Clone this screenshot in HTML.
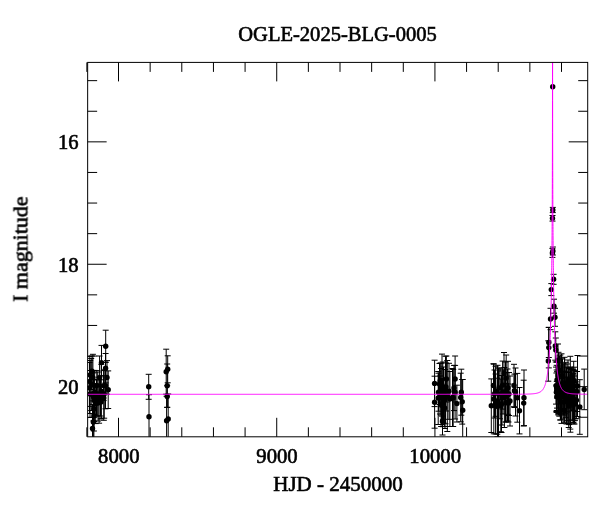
<!DOCTYPE html>
<html lang="en"><head><meta charset="utf-8"><title>OGLE-2025-BLG-0005</title>
<style>html,body{margin:0;padding:0;background:#fff}svg{display:block}text{font-family:"Liberation Serif",serif;fill:#000}</style></head><body>
<svg width="600" height="512" viewBox="0 0 600 512">
<rect width="600" height="512" fill="#fff"/>
<defs><clipPath id="c"><rect x="87.65" y="62.4" width="500.05000000000007" height="374.40000000000003"/></clipPath></defs>
<path d="M86.87 436.8v-9.5M86.87 62.4v9.5M118.51 436.8v-19M118.51 62.4v19M150.15 436.8v-9.5M150.15 62.4v9.5M181.79 436.8v-9.5M181.79 62.4v9.5M213.44 436.8v-9.5M213.44 62.4v9.5M245.08 436.8v-9.5M245.08 62.4v9.5M276.72 436.8v-19M276.72 62.4v19M308.36 436.8v-9.5M308.36 62.4v9.5M340.00 436.8v-9.5M340.00 62.4v9.5M371.65 436.8v-9.5M371.65 62.4v9.5M403.29 436.8v-9.5M403.29 62.4v9.5M434.93 436.8v-19M434.93 62.4v19M466.57 436.8v-9.5M466.57 62.4v9.5M498.21 436.8v-9.5M498.21 62.4v9.5M529.86 436.8v-9.5M529.86 62.4v9.5M561.50 436.8v-9.5M561.50 62.4v9.5M87.65 80.65h9.5M587.7 80.65h-9.5M87.65 111.25h9.5M587.7 111.25h-9.5M87.65 141.85h19M587.7 141.85h-19M87.65 172.45h9.5M587.7 172.45h-9.5M87.65 203.05h9.5M587.7 203.05h-9.5M87.65 233.65h9.5M587.7 233.65h-9.5M87.65 264.25h19M587.7 264.25h-19M87.65 294.85h9.5M587.7 294.85h-9.5M87.65 325.45h9.5M587.7 325.45h-9.5M87.65 356.05h9.5M587.7 356.05h-9.5M87.65 386.65h19M587.7 386.65h-19M87.65 417.25h9.5M587.7 417.25h-9.5" stroke="#000" stroke-width="1" fill="none"/>
<g clip-path="url(#c)">
<path d="M105.7 330.2V362.2M102.7 330.2h6M102.7 362.2h6M101.5 345.4V379.8M98.5 345.4h6M98.5 379.8h6M105.6 353.5V382.9M102.6 353.5h6M102.6 382.9h6M92.0 356.0V386.4M89.0 356.0h6M89.0 386.4h6M90.2 360.5V389.5M87.2 360.5h6M87.2 389.5h6M92.9 354.3V400.9M89.9 354.3h6M89.9 400.9h6M99.6 356.0V399.2M96.6 356.0h6M96.6 399.2h6M107.0 360.6V394.2M104.0 360.6h6M104.0 394.2h6M105.5 362.4V408.8M102.5 362.4h6M102.5 408.8h6M91.2 358.5V410.5M88.2 358.5h6M88.2 410.5h6M96.8 370.6V400.6M93.8 370.6h6M93.8 400.6h6M103.6 370.6V400.6M100.6 370.6h6M100.6 400.6h6M108.2 370.9V408.5M105.2 370.9h6M105.2 408.5h6M101.3 364.3V418.3M98.3 364.3h6M98.3 418.3h6M94.6 370.4V414.4M91.6 370.4h6M91.6 414.4h6M93.5 372.9V420.9M90.5 372.9h6M90.5 420.9h6M103.8 375.7V420.3M100.8 375.7h6M100.8 420.3h6M99.1 377.2V423.2M96.1 377.2h6M96.1 423.2h6M95.7 383.6V423.6M92.7 383.6h6M92.7 423.6h6M89.5 362.5V413.5M86.5 362.5h6M86.5 413.5h6M90.0 370.5V417.5M87.0 370.5h6M87.0 417.5h6M97.8 372.0V416.0M94.8 372.0h6M94.8 416.0h6M104.2 369.8V418.2M101.2 369.8h6M101.2 418.2h6M89.8 356.6V406.4M86.8 356.6h6M86.8 406.4h6M93.9 387.0V431.0M90.9 387.0h6M90.9 431.0h6M93.9 392.0V440.0M90.9 392.0h6M90.9 440.0h6M93.3 396.0V448.0M90.3 396.0h6M90.3 448.0h6M92.5 404.4V452.4M89.5 404.4h6M89.5 452.4h6M96.5 380.0V416.0M93.5 380.0h6M93.5 416.0h6M100.5 376.0V416.0M97.5 376.0h6M97.5 416.0h6M98.0 385.0V421.0M95.0 385.0h6M95.0 421.0h6M94.2 379.5V421.5M91.2 379.5h6M91.2 421.5h6M101.0 385.0V419.0M98.0 385.0h6M98.0 419.0h6M148.7 374.3V399.3M145.7 374.3h6M145.7 399.3h6M149.0 394.7V438.7M146.0 394.7h6M146.0 438.7h6M167.7 355.8V382.8M164.7 355.8h6M164.7 382.8h6M166.2 349.2V394.2M163.2 349.2h6M163.2 394.2h6M167.2 364.0V407.4M164.2 364.0h6M164.2 407.4h6M167.2 385.7V407.3M164.2 385.7h6M164.2 407.3h6M168.2 394.0V444.0M165.2 394.0h6M165.2 444.0h6M166.6 396.3V445.3M163.6 396.3h6M163.6 445.3h6M434.6 360.2V406.6M431.6 360.2h6M431.6 406.6h6M434.6 376.2V428.2M431.6 376.2h6M431.6 428.2h6M438.5 373.2V411.2M435.5 373.2h6M435.5 411.2h6M440.2 363.2V398.4M437.2 363.2h6M437.2 398.4h6M442.0 354.1V416.1M439.0 354.1h6M439.0 416.1h6M441.1 368.5V426.5M438.1 368.5h6M438.1 426.5h6M442.8 378.7V426.7M439.8 378.7h6M439.8 426.7h6M444.6 389.5V426.5M441.6 389.5h6M441.6 426.5h6M442.8 362.0V422.0M439.8 362.0h6M439.8 422.0h6M446.4 356.0V402.0M443.4 356.0h6M443.4 402.0h6M445.5 356.2V423.8M442.5 356.2h6M442.5 423.8h6M447.3 360.5V431.5M444.3 360.5h6M444.3 431.5h6M449.0 363.3V419.3M446.0 363.3h6M446.0 419.3h6M449.9 371.5V426.5M446.9 371.5h6M446.9 426.5h6M452.5 368.5V426.5M449.5 368.5h6M449.5 426.5h6M455.1 356.0V402.0M452.1 356.0h6M452.1 402.0h6M455.1 365.4V419.0M452.1 365.4h6M452.1 419.0h6M454.0 365.4V410.6M451.0 365.4h6M451.0 410.6h6M456.9 385.2V422.0M453.9 385.2h6M453.9 422.0h6M453.2 369.5V426.5M450.2 369.5h6M450.2 426.5h6M461.3 369.2V415.2M458.3 369.2h6M458.3 415.2h6M460.7 373.2V421.8M457.7 373.2h6M457.7 421.8h6M462.2 379.5V424.1M459.2 379.5h6M459.2 424.1h6M462.7 379.5V441.1M459.7 379.5h6M459.7 441.1h6M443.0 378.5V421.5M440.0 378.5h6M440.0 421.5h6M440.0 376.0V414.0M437.0 376.0h6M437.0 414.0h6M439.5 363.5V404.5M436.5 363.5h6M436.5 404.5h6M441.0 363.0V415.0M438.0 363.0h6M438.0 415.0h6M443.5 367.0V423.0M440.5 367.0h6M440.5 423.0h6M441.5 385.5V424.5M438.5 385.5h6M438.5 424.5h6M445.0 369.5V428.5M442.0 369.5h6M442.0 428.5h6M446.0 363.0V411.0M443.0 363.0h6M443.0 411.0h6M438.2 371.5V424.5M435.2 371.5h6M435.2 424.5h6M442.5 407.0V435.0M439.5 407.0h6M439.5 435.0h6M493.5 363.7V407.3M490.5 363.7h6M490.5 407.3h6M491.3 378.9V432.5M488.3 378.9h6M488.3 432.5h6M495.6 366.3V416.3M492.6 366.3h6M492.6 416.3h6M497.5 365.3V436.7M494.5 365.3h6M494.5 436.7h6M497.3 378.2V434.2M494.3 378.2h6M494.3 434.2h6M500.0 369.0V418.8M497.0 369.0h6M497.0 418.8h6M500.8 379.1V431.7M497.8 379.1h6M497.8 431.7h6M502.6 361.1V409.1M499.6 361.1h6M499.6 409.1h6M504.0 352.5V394.5M501.0 352.5h6M501.0 394.5h6M504.4 367.5V427.5M501.4 367.5h6M501.4 427.5h6M506.2 355.0V401.2M503.2 355.0h6M503.2 401.2h6M508.0 361.3V414.3M505.0 361.3h6M505.0 414.3h6M506.1 383.4V422.0M503.1 383.4h6M503.1 422.0h6M510.0 376.0V426.0M507.0 376.0h6M507.0 426.0h6M514.0 364.3V406.7M511.0 364.3h6M511.0 406.7h6M514.4 374.1V407.5M511.4 374.1h6M511.4 407.5h6M515.5 368.0V416.0M512.5 368.0h6M512.5 416.0h6M517.3 373.4V422.2M514.3 373.4h6M514.3 422.2h6M519.5 387.5V433.9M516.5 387.5h6M516.5 433.9h6M524.0 370.0V425.6M521.0 370.0h6M521.0 425.6h6M523.7 380.2V426.0M520.7 380.2h6M520.7 426.0h6M498.5 368.0V440.0M495.5 368.0h6M495.5 440.0h6M495.6 374.0V434.0M492.6 374.0h6M492.6 434.0h6M502.0 371.0V425.0M499.0 371.0h6M499.0 425.0h6M505.5 362.0V422.0M502.5 362.0h6M502.5 422.0h6M509.0 372.5V415.5M506.0 372.5h6M506.0 415.5h6M493.8 364.2V433.8M490.8 364.2h6M490.8 433.8h6M507.5 369.0V421.0M504.5 369.0h6M504.5 421.0h6M501.5 375.5V432.5M498.5 375.5h6M498.5 432.5h6M494.5 370.0V418.0M491.5 370.0h6M491.5 418.0h6M499.0 368.0V408.0M496.0 368.0h6M496.0 408.0h6M503.0 370.0V414.0M500.0 370.0h6M500.0 414.0h6M508.5 384.0V422.0M505.5 384.0h6M505.5 422.0h6M552.8 207.4V212.6M549.8 207.4h6M549.8 212.6h6M552.5 215.5V221.1M549.5 215.5h6M549.5 221.1h6M552.4 248.4V257.4M549.4 248.4h6M549.4 257.4h6M552.9 247.0V255.0M549.9 247.0h6M549.9 255.0h6M553.6 274.3V284.3M550.6 274.3h6M550.6 284.3h6M551.3 283.6V295.6M548.3 283.6h6M548.3 295.6h6M554.0 299.2V313.2M551.0 299.2h6M551.0 313.2h6M550.5 308.3V329.7M547.5 308.3h6M547.5 329.7h6M555.0 308.3V326.3M552.0 308.3h6M552.0 326.3h6M548.8 327.5V357.5M545.8 327.5h6M545.8 357.5h6M548.8 327.3V367.9M545.8 327.3h6M545.8 367.9h6M548.3 340.8V381.2M545.3 340.8h6M545.3 381.2h6M555.3 331.8V360.2M552.3 331.8h6M552.3 360.2h6M555.8 338.0V362.0M552.8 338.0h6M552.8 362.0h6M558.0 344.0V376.0M555.0 344.0h6M555.0 376.0h6M556.4 373.0V411.4M553.4 373.0h6M553.4 411.4h6M558.0 366.0V414.0M555.0 366.0h6M555.0 414.0h6M560.3 355.0V420.0M557.3 355.0h6M557.3 420.0h6M561.5 353.8V423.4M558.5 353.8h6M558.5 423.4h6M558.5 352.3V397.7M555.5 352.3h6M555.5 397.7h6M562.0 358.0V410.0M559.0 358.0h6M559.0 410.0h6M564.5 357.3V408.7M561.5 357.3h6M561.5 408.7h6M565.7 362.3V417.7M562.7 362.3h6M562.7 417.7h6M563.0 371.0V419.0M560.0 371.0h6M560.0 419.0h6M566.5 372.0V424.0M563.5 372.0h6M563.5 424.0h6M568.7 372.5V427.5M565.7 372.5h6M565.7 427.5h6M570.3 356.3V429.1M567.3 356.3h6M567.3 429.1h6M570.4 367.2V432.2M567.4 367.2h6M567.4 432.2h6M573.7 361.3V423.9M570.7 361.3h6M570.7 423.9h6M575.0 367.2V418.8M572.0 367.2h6M572.0 418.8h6M571.0 367.2V402.2M568.0 367.2h6M568.0 402.2h6M577.5 355.5V416.5M574.5 355.5h6M574.5 416.5h6M579.8 379.7V434.3M576.8 379.7h6M576.8 434.3h6M584.2 369.1V409.7M581.2 369.1h6M581.2 409.7h6M557.0 362.0V398.0M554.0 362.0h6M554.0 398.0h6M559.5 356.0V384.0M556.5 356.0h6M556.5 384.0h6M559.0 382.0V414.0M556.0 382.0h6M556.0 414.0h6M560.5 384.1V419.9M557.5 384.1h6M557.5 419.9h6M562.5 359.0V393.0M559.5 359.0h6M559.5 393.0h6M564.0 382.0V422.0M561.0 382.0h6M561.0 422.0h6M567.0 364.0V412.0M564.0 364.0h6M564.0 412.0h6M568.0 360.0V400.0M565.0 360.0h6M565.0 400.0h6M569.0 388.0V424.0M566.0 388.0h6M566.0 424.0h6M572.0 376.0V420.0M569.0 376.0h6M569.0 420.0h6M574.5 376.0V424.0M571.5 376.0h6M571.5 424.0h6M577.0 371.5V411.5M574.0 371.5h6M574.0 411.5h6M562.3 378.4V414.2M559.3 378.4h6M559.3 414.2h6M566.8 377.0V420.6M563.8 377.0h6M563.8 420.6h6M556.7 365.3V410.5M553.7 365.3h6M553.7 410.5h6M557.0 371.7V408.1M554.0 371.7h6M554.0 408.1h6M564.4 371.9V411.7M561.4 371.9h6M561.4 411.7h6M568.7 368.1V405.1M565.7 368.1h6M565.7 405.1h6M573.5 382.6V422.2M570.5 382.6h6M570.5 422.2h6M558.5 374.5V415.1M555.5 374.5h6M555.5 415.1h6M559.3 372.4V416.2M556.3 372.4h6M556.3 416.2h6M568.9 368.1V398.7M565.9 368.1h6M565.9 398.7h6M556.8 381.4V412.2M553.8 381.4h6M553.8 412.2h6M569.8 368.5V399.7M566.8 368.5h6M566.8 399.7h6M565.0 372.0V413.8M562.0 372.0h6M562.0 413.8h6M572.2 369.4V407.0M569.2 369.4h6M569.2 407.0h6M566.5 367.2V402.2M563.5 367.2h6M563.5 402.2h6M570.8 368.9V401.1M567.8 368.9h6M567.8 401.1h6M564.3 398.0V422.8M561.3 398.0h6M561.3 422.8h6M558.7 362.2V413.6M555.7 362.2h6M555.7 413.6h6M571.6 369.2V411.0M568.6 369.2h6M568.6 411.0h6M573.9 370.2V400.8M570.9 370.2h6M570.9 400.8h6M567.7 377.7V423.5M564.7 377.7h6M564.7 423.5h6M573.1 373.4V422.6M570.1 373.4h6M570.1 422.6h6M556.8 362.0V412.2M553.8 362.0h6M553.8 412.2h6M569.1 383.2V424.6M566.1 383.2h6M566.1 424.6h6M563.6 363.7V415.1M560.6 363.7h6M560.6 415.1h6M556.0 367.1V404.1M553.0 367.1h6M553.0 404.1h6M556.7 370.0V412.2M553.7 370.0h6M553.7 412.2h6M573.0 369.8V410.4M570.0 369.8h6M570.0 410.4h6M572.6 374.7V420.3M569.6 374.7h6M569.6 420.3h6M576.4 381.9V418.7M573.4 381.9h6M573.4 418.7h6M574.2 370.3V391.1M571.2 370.3h6M571.2 391.1h6M574.9 387.6V420.6M571.9 387.6h6M571.9 420.6h6" stroke="#000" stroke-width="1" fill="none"/>
<g fill="#000"><circle cx="105.7" cy="346.2" r="2.7"/><circle cx="101.5" cy="362.6" r="2.7"/><circle cx="105.6" cy="368.2" r="2.7"/><circle cx="92.0" cy="371.2" r="2.7"/><circle cx="90.2" cy="375.0" r="2.7"/><circle cx="92.9" cy="377.6" r="2.7"/><circle cx="99.6" cy="377.6" r="2.7"/><circle cx="107.0" cy="377.4" r="2.7"/><circle cx="105.5" cy="385.6" r="2.7"/><circle cx="91.2" cy="384.5" r="2.7"/><circle cx="96.8" cy="385.6" r="2.7"/><circle cx="103.6" cy="385.6" r="2.7"/><circle cx="108.2" cy="389.7" r="2.7"/><circle cx="101.3" cy="391.3" r="2.7"/><circle cx="94.6" cy="392.4" r="2.7"/><circle cx="93.5" cy="396.9" r="2.7"/><circle cx="103.8" cy="398.0" r="2.7"/><circle cx="99.1" cy="400.2" r="2.7"/><circle cx="95.7" cy="403.6" r="2.7"/><circle cx="89.5" cy="388.0" r="2.7"/><circle cx="90.0" cy="394.0" r="2.7"/><circle cx="97.8" cy="394.0" r="2.7"/><circle cx="104.2" cy="394.0" r="2.7"/><circle cx="89.8" cy="381.5" r="2.7"/><circle cx="93.9" cy="409.0" r="2.7"/><circle cx="93.9" cy="416.0" r="2.7"/><circle cx="93.3" cy="422.0" r="2.7"/><circle cx="92.5" cy="428.4" r="2.7"/><circle cx="96.5" cy="398.0" r="2.7"/><circle cx="100.5" cy="396.0" r="2.7"/><circle cx="98.0" cy="403.0" r="2.7"/><circle cx="94.2" cy="400.5" r="2.7"/><circle cx="101.0" cy="402.0" r="2.7"/><circle cx="148.7" cy="386.8" r="2.7"/><circle cx="149.0" cy="416.7" r="2.7"/><circle cx="167.7" cy="369.3" r="2.7"/><circle cx="166.2" cy="371.7" r="2.7"/><circle cx="167.2" cy="385.7" r="2.7"/><circle cx="167.2" cy="396.5" r="2.7"/><circle cx="168.2" cy="419.0" r="2.7"/><circle cx="166.6" cy="420.8" r="2.7"/><circle cx="434.6" cy="383.4" r="2.7"/><circle cx="434.6" cy="402.2" r="2.7"/><circle cx="438.5" cy="392.2" r="2.7"/><circle cx="440.2" cy="380.8" r="2.7"/><circle cx="442.0" cy="385.1" r="2.7"/><circle cx="441.1" cy="397.5" r="2.7"/><circle cx="442.8" cy="402.7" r="2.7"/><circle cx="444.6" cy="408.0" r="2.7"/><circle cx="442.8" cy="392.0" r="2.7"/><circle cx="446.4" cy="379.0" r="2.7"/><circle cx="445.5" cy="390.0" r="2.7"/><circle cx="447.3" cy="396.0" r="2.7"/><circle cx="449.0" cy="391.3" r="2.7"/><circle cx="449.9" cy="399.0" r="2.7"/><circle cx="452.5" cy="397.5" r="2.7"/><circle cx="455.1" cy="379.0" r="2.7"/><circle cx="455.1" cy="392.2" r="2.7"/><circle cx="454.0" cy="388.0" r="2.7"/><circle cx="456.9" cy="403.6" r="2.7"/><circle cx="453.2" cy="398.0" r="2.7"/><circle cx="461.3" cy="392.2" r="2.7"/><circle cx="460.7" cy="397.5" r="2.7"/><circle cx="462.2" cy="401.8" r="2.7"/><circle cx="462.7" cy="410.3" r="2.7"/><circle cx="443.0" cy="400.0" r="2.7"/><circle cx="440.0" cy="395.0" r="2.7"/><circle cx="439.5" cy="384.0" r="2.7"/><circle cx="441.0" cy="389.0" r="2.7"/><circle cx="443.5" cy="395.0" r="2.7"/><circle cx="441.5" cy="405.0" r="2.7"/><circle cx="445.0" cy="399.0" r="2.7"/><circle cx="446.0" cy="387.0" r="2.7"/><circle cx="438.2" cy="398.0" r="2.7"/><circle cx="442.5" cy="421.0" r="2.7"/><circle cx="493.5" cy="385.5" r="2.7"/><circle cx="491.3" cy="405.7" r="2.7"/><circle cx="495.6" cy="391.3" r="2.7"/><circle cx="497.5" cy="401.0" r="2.7"/><circle cx="497.3" cy="406.2" r="2.7"/><circle cx="500.0" cy="393.9" r="2.7"/><circle cx="500.8" cy="405.4" r="2.7"/><circle cx="502.6" cy="385.1" r="2.7"/><circle cx="504.0" cy="373.5" r="2.7"/><circle cx="504.4" cy="397.5" r="2.7"/><circle cx="506.2" cy="378.1" r="2.7"/><circle cx="508.0" cy="387.8" r="2.7"/><circle cx="506.1" cy="402.7" r="2.7"/><circle cx="510.0" cy="401.0" r="2.7"/><circle cx="514.0" cy="385.5" r="2.7"/><circle cx="514.4" cy="390.8" r="2.7"/><circle cx="515.5" cy="392.0" r="2.7"/><circle cx="517.3" cy="397.8" r="2.7"/><circle cx="519.5" cy="410.7" r="2.7"/><circle cx="524.0" cy="397.8" r="2.7"/><circle cx="523.7" cy="403.1" r="2.7"/><circle cx="498.5" cy="404.0" r="2.7"/><circle cx="495.6" cy="404.0" r="2.7"/><circle cx="502.0" cy="398.0" r="2.7"/><circle cx="505.5" cy="392.0" r="2.7"/><circle cx="509.0" cy="394.0" r="2.7"/><circle cx="493.8" cy="399.0" r="2.7"/><circle cx="507.5" cy="395.0" r="2.7"/><circle cx="501.5" cy="404.0" r="2.7"/><circle cx="494.5" cy="394.0" r="2.7"/><circle cx="499.0" cy="388.0" r="2.7"/><circle cx="503.0" cy="392.0" r="2.7"/><circle cx="508.5" cy="403.0" r="2.7"/><circle cx="552.7" cy="86.7" r="2.7"/><circle cx="552.8" cy="210.0" r="2.7"/><circle cx="552.5" cy="218.3" r="2.7"/><circle cx="552.4" cy="252.9" r="2.7"/><circle cx="552.9" cy="251.0" r="2.7"/><circle cx="553.6" cy="279.3" r="2.7"/><circle cx="551.3" cy="289.6" r="2.7"/><circle cx="554.0" cy="306.2" r="2.7"/><circle cx="550.5" cy="319.0" r="2.7"/><circle cx="555.0" cy="317.3" r="2.7"/><circle cx="548.8" cy="342.5" r="2.7"/><circle cx="548.8" cy="347.6" r="2.7"/><circle cx="548.3" cy="361.0" r="2.7"/><circle cx="555.3" cy="346.0" r="2.7"/><circle cx="555.8" cy="350.0" r="2.7"/><circle cx="558.0" cy="360.0" r="2.7"/><circle cx="556.4" cy="392.2" r="2.7"/><circle cx="558.0" cy="390.0" r="2.7"/><circle cx="560.3" cy="387.5" r="2.7"/><circle cx="561.5" cy="388.6" r="2.7"/><circle cx="558.5" cy="375.0" r="2.7"/><circle cx="562.0" cy="384.0" r="2.7"/><circle cx="564.5" cy="383.0" r="2.7"/><circle cx="565.7" cy="390.0" r="2.7"/><circle cx="563.0" cy="395.0" r="2.7"/><circle cx="566.5" cy="398.0" r="2.7"/><circle cx="568.7" cy="400.0" r="2.7"/><circle cx="570.3" cy="392.7" r="2.7"/><circle cx="570.4" cy="399.7" r="2.7"/><circle cx="573.7" cy="392.6" r="2.7"/><circle cx="575.0" cy="393.0" r="2.7"/><circle cx="571.0" cy="384.7" r="2.7"/><circle cx="577.5" cy="386.0" r="2.7"/><circle cx="579.8" cy="407.0" r="2.7"/><circle cx="584.2" cy="389.4" r="2.7"/><circle cx="557.0" cy="380.0" r="2.7"/><circle cx="559.5" cy="370.0" r="2.7"/><circle cx="559.0" cy="398.0" r="2.7"/><circle cx="560.5" cy="402.0" r="2.7"/><circle cx="562.5" cy="376.0" r="2.7"/><circle cx="564.0" cy="402.0" r="2.7"/><circle cx="567.0" cy="388.0" r="2.7"/><circle cx="568.0" cy="380.0" r="2.7"/><circle cx="569.0" cy="406.0" r="2.7"/><circle cx="572.0" cy="398.0" r="2.7"/><circle cx="574.5" cy="400.0" r="2.7"/><circle cx="577.0" cy="391.5" r="2.7"/><circle cx="562.3" cy="396.3" r="2.7"/><circle cx="566.8" cy="398.8" r="2.7"/><circle cx="556.7" cy="387.9" r="2.7"/><circle cx="557.0" cy="389.9" r="2.7"/><circle cx="564.4" cy="391.8" r="2.7"/><circle cx="568.7" cy="386.6" r="2.7"/><circle cx="573.5" cy="402.4" r="2.7"/><circle cx="558.5" cy="394.8" r="2.7"/><circle cx="559.3" cy="394.3" r="2.7"/><circle cx="568.9" cy="383.4" r="2.7"/><circle cx="556.8" cy="396.8" r="2.7"/><circle cx="569.8" cy="384.1" r="2.7"/><circle cx="565.0" cy="392.9" r="2.7"/><circle cx="572.2" cy="388.2" r="2.7"/><circle cx="566.5" cy="384.7" r="2.7"/><circle cx="570.8" cy="385.0" r="2.7"/><circle cx="564.3" cy="410.4" r="2.7"/><circle cx="558.7" cy="387.9" r="2.7"/><circle cx="571.6" cy="390.1" r="2.7"/><circle cx="573.9" cy="385.5" r="2.7"/><circle cx="567.7" cy="400.6" r="2.7"/><circle cx="573.1" cy="398.0" r="2.7"/><circle cx="556.8" cy="387.1" r="2.7"/><circle cx="569.1" cy="403.9" r="2.7"/><circle cx="563.6" cy="389.4" r="2.7"/><circle cx="556.0" cy="385.6" r="2.7"/><circle cx="556.7" cy="391.1" r="2.7"/><circle cx="573.0" cy="390.1" r="2.7"/><circle cx="572.6" cy="397.5" r="2.7"/><circle cx="576.4" cy="400.3" r="2.7"/><circle cx="574.2" cy="380.7" r="2.7"/><circle cx="574.9" cy="404.1" r="2.7"/></g>
<path d="M87.65 394.30L88.65 394.30L89.65 394.30L90.65 394.30L91.65 394.30L92.65 394.30L93.65 394.30L94.65 394.30L95.65 394.30L96.65 394.30L97.65 394.30L98.65 394.30L99.65 394.30L100.65 394.30L101.65 394.30L102.65 394.30L103.65 394.30L104.65 394.30L105.65 394.30L106.65 394.30L107.65 394.30L108.65 394.30L109.65 394.30L110.65 394.30L111.65 394.30L112.65 394.30L113.65 394.30L114.65 394.30L115.65 394.30L116.65 394.30L117.65 394.30L118.65 394.30L119.65 394.30L120.65 394.30L121.65 394.30L122.65 394.30L123.65 394.30L124.65 394.30L125.65 394.30L126.65 394.30L127.65 394.30L128.65 394.30L129.65 394.30L130.65 394.30L131.65 394.30L132.65 394.30L133.65 394.30L134.65 394.30L135.65 394.30L136.65 394.30L137.65 394.30L138.65 394.30L139.65 394.30L140.65 394.30L141.65 394.30L142.65 394.30L143.65 394.30L144.65 394.30L145.65 394.30L146.65 394.30L147.65 394.30L148.65 394.30L149.65 394.30L150.65 394.30L151.65 394.30L152.65 394.30L153.65 394.30L154.65 394.30L155.65 394.30L156.65 394.30L157.65 394.30L158.65 394.30L159.65 394.30L160.65 394.30L161.65 394.30L162.65 394.30L163.65 394.30L164.65 394.30L165.65 394.30L166.65 394.30L167.65 394.30L168.65 394.30L169.65 394.30L170.65 394.30L171.65 394.30L172.65 394.30L173.65 394.30L174.65 394.30L175.65 394.30L176.65 394.30L177.65 394.30L178.65 394.30L179.65 394.30L180.65 394.30L181.65 394.30L182.65 394.30L183.65 394.30L184.65 394.30L185.65 394.30L186.65 394.30L187.65 394.30L188.65 394.30L189.65 394.30L190.65 394.30L191.65 394.30L192.65 394.30L193.65 394.30L194.65 394.30L195.65 394.30L196.65 394.30L197.65 394.30L198.65 394.30L199.65 394.30L200.65 394.30L201.65 394.30L202.65 394.30L203.65 394.30L204.65 394.30L205.65 394.30L206.65 394.30L207.65 394.30L208.65 394.30L209.65 394.30L210.65 394.30L211.65 394.30L212.65 394.30L213.65 394.30L214.65 394.30L215.65 394.30L216.65 394.30L217.65 394.30L218.65 394.30L219.65 394.30L220.65 394.30L221.65 394.30L222.65 394.30L223.65 394.30L224.65 394.30L225.65 394.30L226.65 394.30L227.65 394.30L228.65 394.30L229.65 394.30L230.65 394.30L231.65 394.30L232.65 394.30L233.65 394.30L234.65 394.30L235.65 394.30L236.65 394.30L237.65 394.30L238.65 394.30L239.65 394.30L240.65 394.30L241.65 394.30L242.65 394.30L243.65 394.30L244.65 394.30L245.65 394.30L246.65 394.30L247.65 394.30L248.65 394.30L249.65 394.30L250.65 394.30L251.65 394.30L252.65 394.30L253.65 394.30L254.65 394.30L255.65 394.30L256.65 394.30L257.65 394.30L258.65 394.30L259.65 394.30L260.65 394.30L261.65 394.30L262.65 394.30L263.65 394.30L264.65 394.30L265.65 394.30L266.65 394.30L267.65 394.30L268.65 394.30L269.65 394.30L270.65 394.30L271.65 394.30L272.65 394.30L273.65 394.30L274.65 394.30L275.65 394.30L276.65 394.30L277.65 394.30L278.65 394.30L279.65 394.30L280.65 394.30L281.65 394.30L282.65 394.30L283.65 394.30L284.65 394.30L285.65 394.30L286.65 394.30L287.65 394.30L288.65 394.30L289.65 394.30L290.65 394.30L291.65 394.30L292.65 394.30L293.65 394.30L294.65 394.30L295.65 394.30L296.65 394.30L297.65 394.30L298.65 394.30L299.65 394.30L300.65 394.30L301.65 394.30L302.65 394.30L303.65 394.30L304.65 394.30L305.65 394.30L306.65 394.30L307.65 394.30L308.65 394.30L309.65 394.30L310.65 394.30L311.65 394.30L312.65 394.30L313.65 394.30L314.65 394.30L315.65 394.30L316.65 394.30L317.65 394.30L318.65 394.30L319.65 394.30L320.65 394.30L321.65 394.30L322.65 394.30L323.65 394.30L324.65 394.30L325.65 394.30L326.65 394.30L327.65 394.30L328.65 394.30L329.65 394.30L330.65 394.30L331.65 394.30L332.65 394.30L333.65 394.30L334.65 394.30L335.65 394.30L336.65 394.30L337.65 394.30L338.65 394.30L339.65 394.30L340.65 394.30L341.65 394.30L342.65 394.30L343.65 394.30L344.65 394.30L345.65 394.30L346.65 394.30L347.65 394.30L348.65 394.30L349.65 394.30L350.65 394.30L351.65 394.30L352.65 394.30L353.65 394.30L354.65 394.30L355.65 394.30L356.65 394.30L357.65 394.30L358.65 394.30L359.65 394.30L360.65 394.30L361.65 394.30L362.65 394.30L363.65 394.30L364.65 394.30L365.65 394.30L366.65 394.30L367.65 394.30L368.65 394.30L369.65 394.30L370.65 394.30L371.65 394.30L372.65 394.30L373.65 394.30L374.65 394.30L375.65 394.30L376.65 394.30L377.65 394.30L378.65 394.30L379.65 394.30L380.65 394.30L381.65 394.30L382.65 394.30L383.65 394.30L384.65 394.30L385.65 394.30L386.65 394.30L387.65 394.30L388.65 394.30L389.65 394.30L390.65 394.30L391.65 394.30L392.65 394.30L393.65 394.30L394.65 394.30L395.65 394.30L396.65 394.30L397.65 394.30L398.65 394.30L399.65 394.30L400.65 394.30L401.65 394.30L402.65 394.30L403.65 394.30L404.65 394.30L405.65 394.30L406.65 394.30L407.65 394.30L408.65 394.30L409.65 394.30L410.65 394.30L411.65 394.30L412.65 394.30L413.65 394.30L414.65 394.30L415.65 394.30L416.65 394.30L417.65 394.30L418.65 394.30L419.65 394.30L420.65 394.30L421.65 394.30L422.65 394.30L423.65 394.30L424.65 394.30L425.65 394.30L426.65 394.30L427.65 394.30L428.65 394.30L429.65 394.30L430.65 394.30L431.65 394.30L432.65 394.30L433.65 394.30L434.65 394.30L435.65 394.30L436.65 394.30L437.65 394.30L438.65 394.30L439.65 394.30L440.65 394.30L441.65 394.30L442.65 394.30L443.65 394.30L444.65 394.30L445.65 394.30L446.65 394.30L447.65 394.30L448.65 394.30L449.65 394.30L450.65 394.30L451.65 394.30L452.65 394.30L453.65 394.30L454.65 394.30L455.65 394.30L456.65 394.30L457.65 394.30L458.65 394.30L459.65 394.30L460.65 394.30L461.65 394.30L462.65 394.30L463.65 394.30L464.65 394.30L465.65 394.30L466.65 394.30L467.65 394.30L468.65 394.30L469.65 394.30L470.65 394.30L471.65 394.30L472.65 394.30L473.65 394.30L474.65 394.30L475.65 394.30L476.65 394.30L477.65 394.30L478.65 394.30L479.65 394.30L480.65 394.30L481.65 394.30L482.65 394.30L483.65 394.30L484.65 394.30L485.65 394.30L486.65 394.29L487.65 394.29L488.65 394.29L489.65 394.29L490.65 394.29L491.65 394.29L492.65 394.29L493.65 394.29L494.65 394.29L495.65 394.29L496.65 394.29L497.65 394.29L498.65 394.29L499.65 394.29L500.65 394.29L501.65 394.29L502.65 394.28L503.65 394.28L504.65 394.28L505.65 394.28L506.65 394.28L507.65 394.28L508.65 394.28L509.65 394.27L510.65 394.27L511.65 394.27L512.65 394.26L513.65 394.26L514.65 394.26L515.65 394.25L516.65 394.25L517.65 394.24L518.65 394.23L519.65 394.22L520.65 394.22L521.65 394.20L522.65 394.19L523.65 394.18L524.65 394.16L525.65 394.14L526.65 394.11L527.65 394.08L528.65 394.05L529.65 394.01L530.65 393.96L531.65 393.89L532.65 393.82L533.65 393.72L534.65 393.60L535.65 393.44L536.65 393.25L537.65 393.00L538.65 392.67L539.65 392.23L540.65 391.65L540.75 391.58L540.85 391.51L540.95 391.44L541.05 391.37L541.15 391.29L541.25 391.21L541.35 391.13L541.45 391.04L541.55 390.96L541.65 390.87L541.75 390.78L541.85 390.68L541.95 390.58L542.05 390.48L542.15 390.37L542.25 390.27L542.35 390.15L542.45 390.04L542.55 389.92L542.65 389.79L542.75 389.67L542.85 389.53L542.95 389.40L543.05 389.26L543.15 389.11L543.25 388.96L543.35 388.81L543.45 388.64L543.55 388.48L543.65 388.30L543.75 388.13L543.85 387.94L543.95 387.75L544.05 387.55L544.15 387.35L544.25 387.14L544.35 386.92L544.45 386.69L544.55 386.45L544.65 386.21L544.75 385.96L544.85 385.69L544.95 385.42L545.05 385.14L545.15 384.85L545.25 384.55L545.35 384.23L545.45 383.91L545.55 383.57L545.65 383.22L545.75 382.86L545.85 382.48L545.95 382.09L546.05 381.68L546.15 381.26L546.25 380.82L546.35 380.37L546.45 379.89L546.55 379.40L546.65 378.89L546.75 378.36L546.85 377.81L546.95 377.24L547.05 376.64L547.15 376.02L547.25 375.38L547.35 374.71L547.45 374.01L547.55 373.28L547.65 372.53L547.75 371.74L547.85 370.92L547.95 370.07L548.05 369.18L548.15 368.25L548.25 367.29L548.35 366.28L548.45 365.23L548.55 364.13L548.65 362.99L548.75 361.79L548.85 360.54L548.95 359.24L549.05 357.87L549.15 356.45L549.25 354.95L549.35 353.39L549.45 351.75L549.55 350.03L549.65 348.23L549.75 346.34L549.85 344.35L549.95 342.26L550.05 340.06L550.15 337.74L550.25 335.29L550.35 332.70L550.45 329.96L550.55 327.06L550.65 323.97L550.75 320.69L550.85 317.18L550.95 313.43L551.05 309.40L551.07 308.56L551.09 307.70L551.11 306.83L551.13 305.95L551.15 305.06L551.17 304.15L551.19 303.22L551.21 302.28L551.23 301.33L551.25 300.36L551.27 299.37L551.29 298.37L551.31 297.34L551.33 296.30L551.35 295.25L551.37 294.17L551.39 293.07L551.41 291.95L551.43 290.82L551.45 289.65L551.47 288.47L551.49 287.26L551.51 286.03L551.53 284.78L551.55 283.49L551.57 282.18L551.59 280.84L551.61 279.48L551.63 278.08L551.65 276.64L551.67 275.18L551.69 273.68L551.71 272.14L551.73 270.57L551.75 268.95L551.77 267.29L551.79 265.59L551.81 263.84L551.83 262.04L551.85 260.19L551.87 258.29L551.89 256.33L551.91 254.30L551.93 252.21L551.95 250.05L551.97 247.81L551.99 245.50L552.01 243.10L552.03 240.60L552.05 238.01L552.07 235.31L552.09 232.50L552.11 229.56L552.13 226.48L552.15 223.25L552.17 219.86L552.19 216.28L552.21 212.49L552.23 208.48L552.25 204.21L552.27 199.64L552.29 194.74L552.31 189.45L552.33 183.71L552.35 177.42L552.37 170.49L552.39 162.76L552.41 154.03L552.43 144.02L552.45 132.30L552.47 118.19L552.49 100.62L552.51 77.79L552.53 48.04L552.55 40.00L552.57 48.04L552.59 77.79L552.61 100.62L552.63 118.19L552.65 132.30L552.67 144.02L552.69 154.03L552.71 162.76L552.73 170.49L552.75 177.42L552.77 183.71L552.79 189.45L552.81 194.74L552.83 199.64L552.85 204.21L552.87 208.48L552.89 212.49L552.91 216.28L552.93 219.86L552.95 223.25L552.97 226.48L552.99 229.56L553.01 232.50L553.03 235.31L553.05 238.01L553.07 240.60L553.09 243.10L553.11 245.50L553.13 247.81L553.15 250.05L553.17 252.21L553.19 254.30L553.21 256.33L553.23 258.29L553.25 260.19L553.27 262.04L553.29 263.84L553.31 265.59L553.33 267.29L553.35 268.95L553.37 270.57L553.39 272.14L553.41 273.68L553.43 275.18L553.45 276.64L553.47 278.08L553.49 279.48L553.51 280.84L553.53 282.18L553.55 283.49L553.57 284.78L553.59 286.03L553.61 287.26L553.63 288.47L553.65 289.65L553.67 290.82L553.69 291.95L553.71 293.07L553.73 294.17L553.75 295.25L553.77 296.30L553.79 297.34L553.81 298.37L553.83 299.37L553.85 300.36L553.87 301.33L553.89 302.28L553.91 303.22L553.93 304.15L553.95 305.06L553.97 305.95L553.99 306.83L554.01 307.70L554.03 308.56L554.05 309.40L554.07 310.23L554.17 314.20L554.27 317.90L554.37 321.36L554.47 324.60L554.57 327.65L554.67 330.52L554.77 333.23L554.87 335.79L554.97 338.21L555.07 340.51L555.17 342.69L555.27 344.76L555.37 346.73L555.47 348.60L555.57 350.38L555.67 352.09L555.77 353.71L555.87 355.26L555.97 356.74L556.07 358.15L556.17 359.50L556.27 360.80L556.37 362.03L556.47 363.22L556.57 364.35L556.67 365.44L556.77 366.48L556.87 367.48L556.97 368.44L557.07 369.36L557.17 370.24L557.27 371.09L557.37 371.90L557.47 372.68L557.57 373.43L557.67 374.15L557.77 374.84L557.87 375.51L557.97 376.15L558.07 376.76L558.17 377.35L558.27 377.92L558.37 378.47L558.47 379.00L558.57 379.50L558.67 379.99L558.77 380.46L558.87 380.91L558.97 381.34L559.07 381.76L559.17 382.17L559.27 382.56L559.37 382.93L559.47 383.29L559.57 383.64L559.67 383.97L559.77 384.30L559.87 384.61L559.97 384.91L560.07 385.20L560.17 385.48L560.27 385.75L560.37 386.01L560.47 386.26L560.57 386.50L560.67 386.73L560.77 386.96L560.87 387.18L560.97 387.39L561.07 387.59L561.17 387.79L561.27 387.98L561.37 388.16L561.47 388.34L561.57 388.51L561.67 388.68L561.77 388.84L561.87 388.99L561.97 389.14L562.07 389.29L562.17 389.43L562.27 389.56L562.37 389.69L562.47 389.82L562.57 389.94L562.67 390.06L562.77 390.18L562.87 390.29L562.97 390.40L563.07 390.50L563.17 390.60L563.27 390.70L563.37 390.79L563.47 390.89L563.57 390.98L563.67 391.06L563.77 391.15L563.87 391.23L563.97 391.31L564.07 391.38L564.17 391.46L564.27 391.53L564.37 391.60L564.47 391.67L564.57 391.73L565.57 392.29L566.57 392.71L567.57 393.03L568.57 393.27L569.57 393.46L570.57 393.61L571.57 393.73L572.57 393.83L573.57 393.90L574.57 393.96L575.57 394.01L576.57 394.05L577.57 394.09L578.57 394.12L579.57 394.14L580.57 394.16L581.57 394.18L582.57 394.19L583.57 394.21L584.57 394.22L585.57 394.23L586.57 394.23L587.57 394.24" stroke="#ff00ff" stroke-width="1" fill="none" stroke-linejoin="round"/>
</g>
<rect x="87.65" y="62.4" width="500.05000000000007" height="374.40000000000003" fill="none" stroke="#000" stroke-width="1"/>
<g opacity="0.999" stroke="#000" stroke-width="0.6">
<text x="337.5" y="40.5" font-size="20" text-anchor="middle" textLength="198.5" lengthAdjust="spacingAndGlyphs">OGLE-2025-BLG-0005</text>
<text x="78.5" y="149.1" font-size="20" text-anchor="end" textLength="20.6" lengthAdjust="spacingAndGlyphs">16</text>
<text x="78.5" y="271.5" font-size="20" text-anchor="end" textLength="20.6" lengthAdjust="spacingAndGlyphs">18</text>
<text x="78.5" y="393.9" font-size="20" text-anchor="end" textLength="20.6" lengthAdjust="spacingAndGlyphs">20</text>
<text x="118.8" y="462.8" font-size="20" text-anchor="middle" textLength="41.4" lengthAdjust="spacingAndGlyphs">8000</text>
<text x="277.0" y="462.8" font-size="20" text-anchor="middle" textLength="41.4" lengthAdjust="spacingAndGlyphs">9000</text>
<text x="435.2" y="462.8" font-size="20" text-anchor="middle" textLength="51.75" lengthAdjust="spacingAndGlyphs">10000</text>
<text x="338" y="491.2" font-size="20" text-anchor="middle" textLength="129.5" lengthAdjust="spacingAndGlyphs">HJD - 2450000</text>
<text font-size="20" text-anchor="middle" textLength="105.5" lengthAdjust="spacingAndGlyphs" transform="translate(27.5 249.2) rotate(-90)">I magnitude</text>
</g>
</svg></body></html>
